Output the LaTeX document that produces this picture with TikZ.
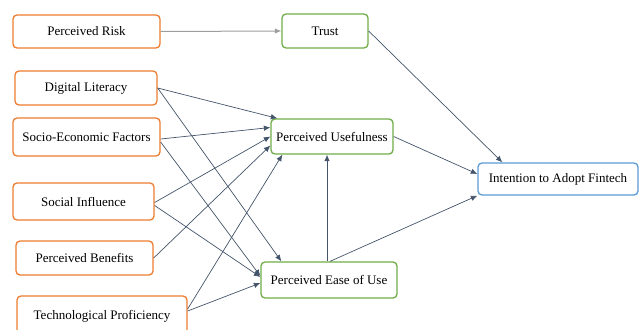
\documentclass[tikz,border=0pt]{standalone}
\usepackage{fontspec}
\setmainfont{Liberation Serif}
\usepackage{xcolor}
\usepackage{tikz}
\usetikzlibrary{arrows.meta, positioning}

\definecolor{boxorange}{HTML}{ED7D31}
\definecolor{boxgreen}{HTML}{70AD47}
\definecolor{boxblue}{HTML}{5B9BD5}
\definecolor{linkgray}{HTML}{44546A}
\definecolor{riskgray}{HTML}{9E9E9E}

\begin{document}
\begin{tikzpicture}[
			x=1pt, y=-1pt,
			factor/.style={rectangle, rounded corners=4pt, line width=1.3pt, align=center, draw=boxorange, fill=white, font=\fontsize{13}{15}\selectfont},
			mediator/.style={rectangle, rounded corners=4pt, line width=1.3pt, align=center, draw=boxgreen, fill=white, font=\fontsize{13}{15}\selectfont},
			outcome/.style={rectangle, rounded corners=4pt, line width=1.3pt, align=center, draw=boxblue, fill=white, font=\fontsize{13}{15}\selectfont},
			arrow/.style={line width=0.7pt, draw=linkgray, -{Latex[length=6.5pt, width=5.5pt]}},
			grayarrow/.style={line width=1pt, draw=riskgray, -{Latex[length=6.5pt, width=5.5pt]}}
			]
			\useasboundingbox (0,0) rectangle (639,329);
			
			% Factores de entrada
			\node (risk) [factor, minimum width=147pt, minimum height=33pt] at (86.5,31.5) {Perceived Risk};
			\node (literacy) [factor, minimum width=142pt, minimum height=34pt] at (86,88) {Digital Literacy};
			\node (socio) [factor, minimum width=147pt, minimum height=38pt] at (86.5,137) {Socio-Economic Factors};
			\node (social) [factor, minimum width=141pt, minimum height=37pt] at (83.5,201.5) {Social Influence};
			\node (benefits) [factor, minimum width=137pt, minimum height=34pt] at (84.5,258) {Perceived Benefits};
			\node (techprof) [factor, minimum width=170pt, minimum height=40pt] at (102,316) {Technological Proficiency};
			
			% Mediadores
			\node (trust) [mediator, minimum width=86pt, minimum height=34pt] at (325,31) {Trust};
			\node (useful) [mediator, minimum width=122pt, minimum height=35pt] at (332,136.5) {Perceived Usefulness};
			\node (ease) [mediator, minimum width=136pt, minimum height=36pt] at (329,280) {Perceived Ease of Use};
			
			% Resultado
			\node (intent) [outcome, minimum width=160pt, minimum height=32pt] at (558,179) {Intention to Adopt Fintech};
			
			% Conexiones
			\draw [grayarrow] (risk.east) -- (trust.west);
			\draw [arrow] (trust.east) -- ([xshift=25pt]intent.north west);
			
			\draw [arrow] (literacy.east) -- ([xshift=7pt]useful.north west);
			\draw [arrow] (literacy.east) -- ([xshift=21pt]ease.north west);
			\draw [arrow] ([yshift=-2pt]socio.east) -- ([yshift=9pt]useful.west);
			\draw [arrow] ([yshift=-5pt]socio.east) -- ([yshift=4pt]ease.west);
			\draw [arrow] ([yshift=-1pt]social.east) -- (useful.west);
			\draw [arrow] ([yshift=-4pt]social.east) -- ([yshift=3pt]ease.west);
			\draw [arrow] (benefits.east) -- ([yshift=-9pt]useful.west);
			\draw [arrow] ([yshift=7pt]techprof.east) -- ([xshift=12pt]useful.south west);
			\draw [arrow] ([yshift=5pt]techprof.east) -- ([yshift=-3pt]ease.west);
			
			\draw [arrow] ([xshift=-2pt]ease.north) -- ([xshift=-2pt]ease.north |- useful.south);
			\draw [arrow] ([xshift=1pt]ease.north) -- (intent.south west);
			\draw [arrow] (useful.east) -- ([yshift=5pt]intent.west);
			
		\end{tikzpicture}
\end{document}
